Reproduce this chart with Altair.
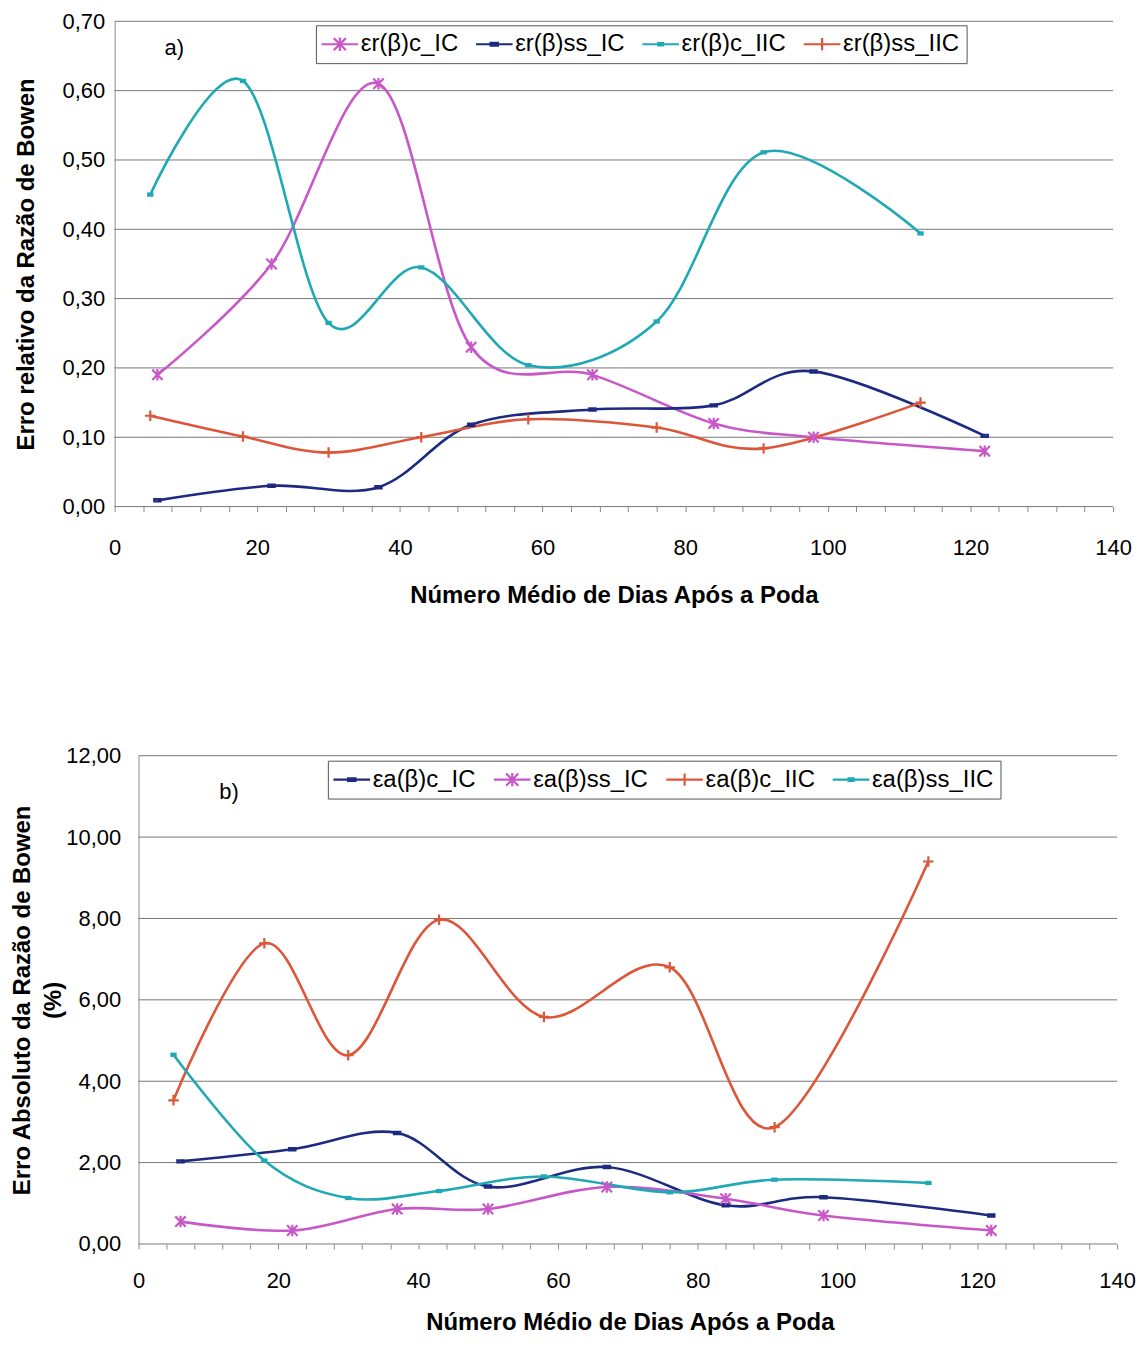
import altair as alt
import pandas as pd

# ---------------- data ----------------
days_ic = [6, 22, 37, 50, 67, 84, 98, 122]
days_iic = [5, 18, 30, 43, 58, 76, 91, 113]

names_a = ["εr(β)c_IC", "εr(β)ss_IC", "εr(β)c_IIC", "εr(β)ss_IIC"]
er_c_ic = [0.19, 0.35, 0.61, 0.23, 0.19, 0.12, 0.10, 0.08]
er_ss_ic = [0.009, 0.030, 0.028, 0.118, 0.140, 0.146, 0.195, 0.102]
er_c_iic = [0.45, 0.614, 0.265, 0.345, 0.204, 0.267, 0.511, 0.394]
er_ss_iic = [0.131, 0.101, 0.078, 0.100, 0.126, 0.114, 0.084, 0.150]

names_b = ["εa(β)c_IC", "εa(β)ss_IC", "εa(β)c_IIC", "εa(β)ss_IIC"]
ea_c_ic = [2.03, 2.33, 2.73, 1.41, 1.89, 0.95, 1.15, 0.70]
ea_ss_ic = [0.55, 0.33, 0.86, 0.86, 1.40, 1.11, 0.70, 0.33]
ea_c_iic = [3.53, 7.39, 4.64, 7.97, 5.58, 6.80, 2.87, 9.40]
ea_ss_iic = [4.65, 2.05, 1.13, 1.30, 1.66, 1.27, 1.58, 1.50]

x_ticks = list(range(0, 141, 4))
y_ticks_a = [0.0, 0.1, 0.2, 0.3, 0.4, 0.5, 0.6, 0.7]
y_ticks_b = [0, 2, 4, 6, 8, 10, 12]
X_MIN, X_MAX = 0, 140

MAGENTA = "#c858c8"
NAVY = "#1c2a80"
CYAN = "#1fa9b5"
RED = "#dc5639"
GRID = "#777777"

# marker shapes (unit square paths)
AST = "M-1,-1L1,1M-1,1L1,-1M0,-1.1L0,1.1"
PLUS = "M-1,0L1,0M0,-1L0,1"
DASH = "M-0.6,-0.22L0.6,-0.22L0.6,0.22L-0.6,0.22Z"
DOT = "M-0.4,-0.2L0.4,-0.2L0.4,0.2L-0.4,0.2Z"
# legend shapes: marker with a line through it
L = "M-3,0L3,0"
AST_L = L + AST
PLUS_L = L + PLUS
DASH_L = L + DASH
DOT_L = L + DOT

FONT = "Liberation Sans"
XTITLE = "Número Médio de Dias Após a Poda"


def frame(names, days, series):
    rows = []
    for n, d, s in zip(names, days, series):
        for xv, yv in zip(d, s):
            rows.append({"series": n, "x": xv, "y": yv})
    return pd.DataFrame(rows)


def panel(df, names, colors, mshapes, lshapes, yticks, ytitle, tag,
          plot_w, height, shift, legend_x, legend_y, tag_x, tag_y,
          ylp, ytp, xlp, xtp, xtitle_x):
    # plot_w: pixel span of 0..140 ; shift: pixels the y-axis sits right of the view's left edge
    px_per = plot_w / (X_MAX - X_MIN)
    x_lo = X_MIN - shift / px_per
    width = plot_w + shift
    cscale = alt.Scale(domain=names, range=colors)
    xscale = alt.Scale(domain=[x_lo, X_MAX], nice=False, zero=False)
    yscale = alt.Scale(domain=[yticks[0], yticks[-1]], nice=False)
    xaxis_kw = dict(values=x_ticks, title=XTITLE,
                    labelExpr="datum.value % 20 == 0 ? datum.label : ''",
                    labelFlush=False, grid=False, domain=False, tickSize=5,
                    labelPadding=xlp, titlePadding=xtp)
    if xtitle_x is not None:
        xaxis_kw["titleX"] = xtitle_x
    xaxis = alt.Axis(**xaxis_kw)
    yaxis = alt.Axis(values=yticks, title=ytitle, ticks=False, grid=False,
                     labelPadding=ylp, offset=-shift,
                     labelExpr="replace(format(datum.value, '.2f'), '.', ',')",
                     titlePadding=ytp)
    gdf = pd.DataFrame({"gy": yticks, "gx0": X_MIN, "gx1": X_MAX})
    grid = alt.Chart(gdf).mark_rule(color=GRID, strokeWidth=1).encode(
        x=alt.X("gx0:Q", scale=xscale, axis=xaxis), x2="gx1:Q",
        y=alt.Y("gy:Q", scale=yscale, axis=yaxis))
    base = alt.Chart(df).encode(x=alt.X("x:Q", scale=xscale, axis=xaxis),
                                y=alt.Y("y:Q", scale=yscale, axis=yaxis))
    lines = base.mark_line(interpolate="cardinal", strokeWidth=2.6).encode(
        color=alt.Color("series:N", scale=cscale, legend=None),
        detail="series:N")
    pts = base.mark_point(filled=False, strokeWidth=2.2, size=110, opacity=1).encode(
        color=alt.Color("series:N", scale=cscale, legend=None),
        shape=alt.Shape("series:N", scale=alt.Scale(domain=names, range=mshapes), legend=None))
    leg_props = dict(orient="none", legendX=legend_x, legendY=legend_y, direction="horizontal",
                     title=None, labelFont=FONT, labelFontSize=24, labelColor="#000",
                     symbolSize=150, symbolStrokeWidth=2.2, symbolOffset=5,
                     labelOffset=9, columnPadding=13, strokeColor="#555",
                     fillColor="white", padding=7, labelLimit=400)
    leg = base.mark_point(filled=False, strokeWidth=2.2, opacity=1).encode(
        color=alt.Color("series:N", scale=cscale, legend=alt.Legend(**leg_props)),
        shape=alt.Shape("series:N", scale=alt.Scale(domain=names, range=lshapes),
                        legend=alt.Legend(**leg_props))).transform_filter("false")
    txt = alt.Chart(pd.DataFrame({"t": [tag]})).mark_text(
        font=FONT, fontSize=22, align="left", baseline="middle", color="#000").encode(
        text="t:N", x=alt.value(tag_x), y=alt.value(tag_y))
    return alt.layer(grid, lines, pts, leg, txt).resolve_scale(
        shape="independent", color="independent").properties(width=width, height=height)


df_a = frame(names_a, [days_ic, days_ic, days_iic, days_iic],
             [er_c_ic, er_ss_ic, er_c_iic, er_ss_iic])
df_b = frame(names_b, [days_ic, days_ic, days_iic, days_iic],
             [ea_c_ic, ea_ss_ic, ea_c_iic, ea_ss_iic])

pa = panel(df_a, names_a, [MAGENTA, NAVY, CYAN, RED], [AST, DASH, DOT, PLUS],
           [AST_L, DASH_L, DOT_L, PLUS_L], y_ticks_a,
           "Erro relativo da Razão de Bowen", "a)",
           plot_w=1002, height=487, shift=0, legend_x=202, legend_y=4, tag_x=50, tag_y=27,
           ylp=10, ytp=24, xlp=26, xtp=25, xtitle_x=None)
pb = panel(df_b, names_b, [NAVY, MAGENTA, RED, CYAN], [DASH, AST, PLUS, DOT],
           [DASH_L, AST_L, PLUS_L, DOT_L], y_ticks_b,
           ["Erro Absoluto da Razão de Bowen", "(%)"], "b)",
           plot_w=982, height=490, shift=24, legend_x=214, legend_y=5, tag_x=105, tag_y=36,
           ylp=18, ytp=0, xlp=22, xtp=19, xtitle_x=517)

chart = alt.vconcat(pa, pb, spacing=138).resolve_scale(
    color="independent", shape="independent").properties(
    padding={"left": 2, "top": 0, "right": 2, "bottom": 0}
).configure_view(stroke=None).configure_axis(
    labelFont=FONT, labelFontSize=22, labelColor="#000",
    titleFont=FONT, titleFontSize=24, titleFontWeight="bold", titleColor="#000",
    domainColor="#8a8a8a", tickColor="#8a8a8a",
    titleLineHeight=31
)

chart.save("out.html", embed_options={"renderer": "svg", "actions": False})
